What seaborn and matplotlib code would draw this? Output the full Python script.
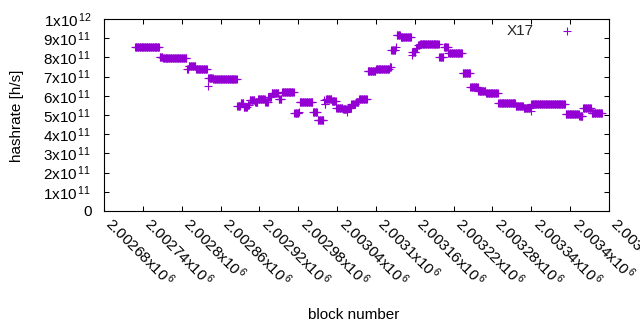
import numpy as np
import pandas as pd
import matplotlib
matplotlib.use("Agg")
import matplotlib.pyplot as plt
import matplotlib.transforms as mtransforms
import seaborn as sns

# Runs of blocks with a constant hashrate estimate
seg_start = [2002728, 2002766, 2002771, 2002808, 2002811, 2002822, 2002840, 2002841, 2002849,
             2002886, 2002891, 2002896, 2002902, 2002905, 2002913, 2002918, 2002929, 2002934,
             2002939, 2002950, 2002955, 2002974, 2002981, 2002982, 2003003, 2003010, 2003020,
             2003021, 2003023, 2003032, 2003039, 2003049, 2003056, 2003057, 2003062, 2003069,
             2003074, 2003087, 2003100, 2003121, 2003124, 2003131, 2003132, 2003138, 2003155,
             2003156, 2003162, 2003165, 2003168, 2003198, 2003205, 2003212, 2003234, 2003246,
             2003258, 2003270, 2003289, 2003316, 2003328, 2003339, 2003340, 2003393, 2003414,
             2003420, 2003433]
seg_end = [2002765, 2002770, 2002807, 2002810, 2002821, 2002839, 2002840, 2002848, 2002885,
           2002890, 2002895, 2002901, 2002904, 2002912, 2002917, 2002928, 2002933, 2002938,
           2002949, 2002954, 2002973, 2002980, 2002981, 2003002, 2003009, 2003019, 2003020,
           2003022, 2003031, 2003038, 2003048, 2003055, 2003056, 2003061, 2003068, 2003073,
           2003086, 2003099, 2003120, 2003123, 2003130, 2003131, 2003137, 2003154, 2003155,
           2003161, 2003164, 2003167, 2003197, 2003204, 2003211, 2003233, 2003245, 2003257,
           2003269, 2003288, 2003315, 2003327, 2003338, 2003339, 2003392, 2003413, 2003419,
           2003432, 2003449]
seg_hashrate_e9 = [853, 800, 795, 738, 757, 738, 651, 691, 686,
                   545, 561, 542, 552, 576, 569, 581, 568, 595,
                   613, 581, 618, 509, 518, 569, 514, 474, 580,
                   556, 585, 573, 538, 531, 516, 538, 556, 569,
                   585, 731, 738, 748, 841, 854, 915, 904, 813,
                   830, 849, 862, 868, 800, 853, 821, 717, 644,
                   625, 613, 561, 548, 535, 522, 556, 507, 496,
                   535, 509]

x_tick_values = [2002680, 2002740, 2002800, 2002860, 2002920, 2002980, 2003040,
                 2003100, 2003160, 2003220, 2003280, 2003340, 2003400, 2003460]
x_tick_mantissa = ["2.00268", "2.00274", "2.0028", "2.00286", "2.00292", "2.00298", "2.00304",
                   "2.0031", "2.00316", "2.00322", "2.00328", "2.00334", "2.0034", "2.00346"]
y_tick_values = [0, 1e11, 2e11, 3e11, 4e11, 5e11, 6e11, 7e11, 8e11, 9e11, 1e12]
y_tick_text = ["0", "1x10^{11}", "2x10^{11}", "3x10^{11}", "4x10^{11}", "5x10^{11}",
               "6x10^{11}", "7x10^{11}", "8x10^{11}", "9x10^{11}", "1x10^{12}"]

blocks = np.concatenate([np.arange(s, e + 1) for s, e in zip(seg_start, seg_end)])
rates = np.concatenate([np.full(e - s + 1, v * 1e9) for s, e, v in zip(seg_start, seg_end, seg_hashrate_e9)])
df = pd.DataFrame({"block": blocks, "hashrate": rates})

sns.set_theme(style="ticks")
plt.rcParams['font.family'] = ['Liberation Sans', 'DejaVu Sans']
plt.rcParams['mathtext.fontset'] = 'custom'
plt.rcParams['mathtext.rm'] = 'Liberation Sans'
plt.rcParams['mathtext.it'] = 'Liberation Sans'

fig = plt.figure(figsize=(6.4, 3.3), dpi=100)
ax = fig.add_axes([104 / 640, 1 - 211 / 330, 505 / 640, 192 / 330])

sns.scatterplot(data=df, x="block", y="hashrate", marker="+", s=26, color="#9400D3",
                linewidth=0.8, ax=ax, label="X17", legend=False)

ax.set_xlim(2002680, 2003460)
ax.set_ylim(0, 1e12)
ax.set_xticks(x_tick_values)
ax.set_xticklabels([r"$\mathregular{%sx10^{\,6}}$" % m for m in x_tick_mantissa],
                   rotation=-45, ha="left", va="center", rotation_mode="anchor")
ax.set_yticks(y_tick_values)
ax.set_yticklabels([t if t == "0" else r"$\mathregular{%s}$" % t.replace("^{", "^{\\,")
                    for t in y_tick_text])

ax.tick_params(direction="in", length=3.6, width=0.75, top=True, right=True,
               labelsize=11, colors="black")
ax.tick_params(axis="x", pad=6.5)
ax.tick_params(axis="y", pad=9)
shift = mtransforms.ScaledTranslation(5 / 100, 0, fig.dpi_scale_trans)
for lab in ax.get_xticklabels():
    lab.set_transform(lab.get_transform() + shift)
for sp in ax.spines.values():
    sp.set_visible(True)
    sp.set_linewidth(0.8)
    sp.set_color("black")

ax.set_xlabel("block number", fontsize=11, color="black")
ax.set_ylabel("hashrate [h/s]", fontsize=11, color="black")
ax.xaxis.set_label_coords(0.495, -0.505)
ax.yaxis.set_label_coords(-0.158, 0.495)

ax.legend(loc="center right", bbox_to_anchor=(0.947, 0.940), markerfirst=False,
          frameon=False, handletextpad=1.2, handlelength=2, borderpad=0,
          borderaxespad=0, fontsize=11)

fig.savefig("out.png", dpi=100)
